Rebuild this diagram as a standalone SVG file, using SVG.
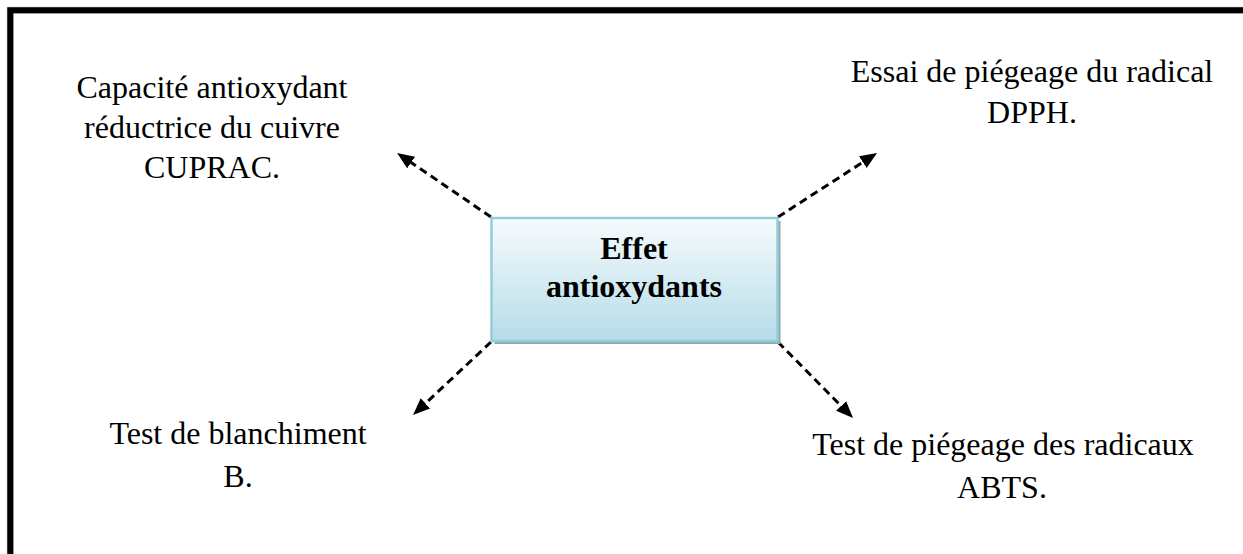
<svg xmlns="http://www.w3.org/2000/svg" width="1243" height="554" viewBox="0 0 1243 554">
  <defs>
    <linearGradient id="boxFill" x1="0" y1="0" x2="0" y2="1">
      <stop offset="0" stop-color="#f6fbfd"/>
      <stop offset="1" stop-color="#b5dce7"/>
    </linearGradient>
    <marker id="head" markerUnits="userSpaceOnUse" markerWidth="18" markerHeight="16" refX="5" refY="7" orient="auto">
      <path d="M0,0 L17,7 L0,14 z" fill="#000"/>
    </marker>
    <style>
      .label { font-family: "Liberation Serif", "Times New Roman", serif; font-size: 32px; fill: #000; text-anchor: middle; }
      .title { font-family: "Liberation Serif", "Times New Roman", serif; font-size: 32px; font-weight: bold; fill: #000; text-anchor: middle; }
      .link { stroke: #000; stroke-width: 3; stroke-dasharray: 8 5; fill: none; marker-end: url(#head); }
    </style>
  </defs>

  <rect width="1243" height="554" fill="#fff"/>

  <!-- page frame (left and top edges) -->
  <path d="M10.3,554 V10.3 H1243" fill="none" stroke="#c8c8c8" stroke-width="7"/>
  <path d="M10.3,554 V10.3 H1243" fill="none" stroke="#000" stroke-width="6"/>

  <!-- connectors -->
  <g id="connectors">
    <line class="link" x1="491" y1="217" x2="407" y2="159.7"/>
    <line class="link" x1="778" y1="217" x2="867" y2="159.5"/>
    <line class="link" x1="491" y1="342" x2="421.8" y2="406.8"/>
    <line class="link" x1="778" y1="342" x2="844.6" y2="409.5"/>
  </g>

  <!-- central node -->
  <g id="node-center">
    <rect x="494.5" y="221" width="286" height="123" fill="#93a8ae"/>
    <rect x="491.5" y="218" width="286" height="123" fill="url(#boxFill)" stroke="#93cddc" stroke-width="2.5"/>
    <text class="title" x="634" y="259">Effet</text>
    <text class="title" x="634" y="297">antioxydants</text>
  </g>

  <g id="node-cuprac">
    <text class="label" x="212" y="98">Capacité antioxydant</text>
    <text class="label" x="212" y="138">réductrice du cuivre</text>
    <text class="label" x="212" y="178">CUPRAC.</text>
  </g>

  <g id="node-dpph">
    <text class="label" x="1032" y="82">Essai de piégeage du radical</text>
    <text class="label" x="1032" y="123">DPPH.</text>
  </g>

  <g id="node-blanchiment">
    <text class="label" x="238" y="444">Test de blanchiment</text>
    <text class="label" x="238" y="487">B.</text>
  </g>

  <g id="node-abts">
    <text class="label" x="1003" y="455">Test de piégeage des radicaux</text>
    <text class="label" x="1002" y="498">ABTS.</text>
  </g>
</svg>
